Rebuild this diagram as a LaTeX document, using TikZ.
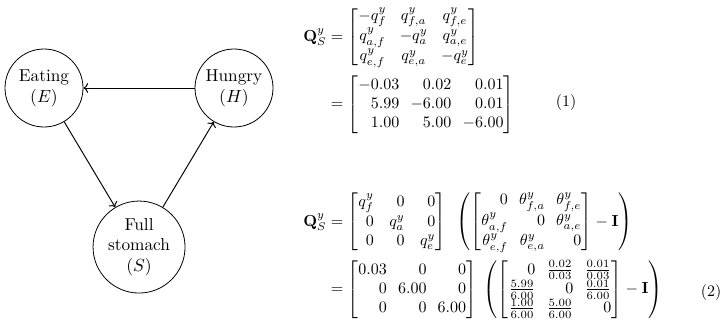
\documentclass[tikz,border=0pt]{standalone}
\usepackage{amsmath,amssymb,mathtools}
\usepackage{tikz}
\usetikzlibrary{arrows.meta}

\begin{document}
\begin{tikzpicture}[x=1pt,y=1pt,
  state/.style={draw,circle,line width=0.5pt,align=center,inner sep=1pt,minimum size=48.75pt,font=\fontsize{10.8}{13}\selectfont},
  trans/.style={->,line width=0.6pt},
  eqn/.style={anchor=north west,inner sep=0pt,font=\setlength{\arraycolsep}{3.5pt}\setlength{\jot}{4pt}}]
\useasboundingbox (0,0) rectangle (451.25,204.4);
% chain of states
\node[state] (E) at (27.5,149.4) {Eating\\$(E)$};
\node[state] (H) at (146.25,149.4) {Hungry\\$(H)$};
\node[state,minimum size=57.5pt] (S) at (86.9,50) {Full\\stomach\\$(S)$};
\draw[trans] (H) -- (E);
\draw[trans] (E) -- (S);
\draw[trans] (S) -- (H);
% generator matrices
\node[eqn] (eqone) at (189.4,200.5) {$\begin{aligned}
\mathbf{Q}^y_S &= {\arraycolsep=4.2pt\begin{bmatrix} -q^y_f & q^y_{f,a} & q^y_{f,e}\\ q^y_{a,f} & -q^y_a & q^y_{a,e}\\ q^y_{e,f} & q^y_{e,a} & -q^y_e \end{bmatrix}}\\
&= \begin{bmatrix*}[r] -0.03 & 0.02 & 0.01\\ 5.99 & -6.00 & 0.01\\ 1.00 & 5.00 & -6.00 \end{bmatrix*}
\end{aligned}$};
\node (tagone) at (353.75,140.6) {(1)};
\node[eqn] (eqtwo) at (189.4,85) {$\begin{aligned}
\mathbf{Q}^y_S &= {\arraycolsep=4.8pt\begin{bmatrix*}[r] q^y_f & 0 & 0\\ 0 & q^y_a & 0\\ 0 & 0 & q^y_e \end{bmatrix*}}\enskip
\left(\begin{bmatrix*}[r] 0 & \theta^y_{f,a} & \theta^y_{f,e}\\ \theta^y_{a,f} & 0 & \theta^y_{a,e}\\ \theta^y_{e,f} & \theta^y_{e,a} & 0 \end{bmatrix*} - \mathbf{I}\right)\\
&= \begin{bmatrix*}[r] 0.03 & 0 & 0\\ 0 & 6.00 & 0\\ 0 & 0 & 6.00 \end{bmatrix*}\;
\left(\begin{bmatrix*}[r] 0 & \frac{0.02}{0.03} & \frac{0.01}{0.03}\\ \frac{5.99}{6.00} & 0 & \frac{0.01}{6.00}\\ \frac{1.00}{6.00} & \frac{5.00}{6.00} & 0 \end{bmatrix*} - \mathbf{I}\right)
\end{aligned}$};
\node (tagtwo) at (444.4,21.9) {(2)};
\end{tikzpicture}
\end{document}
